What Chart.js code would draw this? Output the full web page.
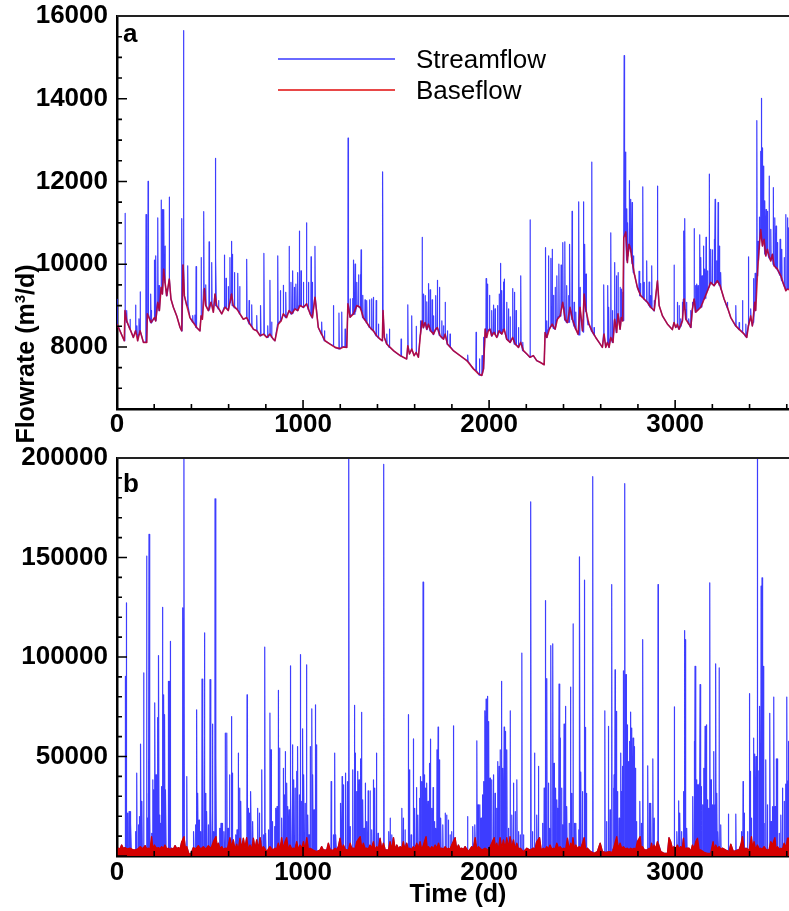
<!DOCTYPE html>
<html>
<head>
<meta charset="utf-8">
<script src="https://cdn.jsdelivr.net/npm/chart.js@4.4.1/dist/chart.umd.min.js"></script>
<style>
  body { margin: 0; background: #fff; }
  #wrap { position: relative; width: 789px; height: 911px; overflow: hidden; background: #fff;
          font-family: 'Liberation Sans', Arial, sans-serif; color: #000; }
  .box { position: absolute; left: 0; }
  .lbl { position: absolute; line-height: 1; white-space: nowrap; }
  .letter { font-size: 26px; font-weight: bold; }
  .legend { font-size: 26px; }
  .key { position: absolute; width: 117px; height: 1.5px; }
  .title { font-size: 25px; font-weight: bold; }
  #yTitle { left: -95px; top: 339px; width: 240px; height: 30px; line-height: 30px; text-align: center;
            transform: rotate(-90deg); }
  #yTitle sup { font-size: 15px; line-height: 0; vertical-align: 9px; }
</style>
</head>
<body>
<div id="wrap">
  <div class="box" style="top:0"><canvas id="panelA" width="789" height="439"></canvas></div>
  <div class="box" style="top:440px"><canvas id="panelB" width="789" height="471"></canvas></div>
  <div class="lbl letter" style="left:123px;top:20px">a</div>
  <div class="lbl letter" style="left:123px;top:470px">b</div>
  <div class="key" style="left:278px;top:58px;background:#6a6aff"></div>
  <div class="key" style="left:278px;top:89px;background:#e84848"></div>
  <div class="lbl legend" style="left:416px;top:46px">Streamflow</div>
  <div class="lbl legend" style="left:416px;top:77px">Baseflow</div>
  <div class="lbl title" id="yTitle">Flowrate (m<sup>3</sup>/d)</div>
  <div class="lbl title" style="left:358px;top:881px;width:200px;text-align:center">Time (d)</div>
</div>
<script>
const DAY_MAX = 3612;
const dayTicks = [0, 1000, 2000, 3000];
const flowTicksA = [8000, 10000, 12000, 14000, 16000];
const flowTicksB = [50000, 100000, 150000, 200000];

// panel a: baseflow [day, m3/d]
const baseflowA = [
  [0,8550],[39,8150],[43,8880],[52,8630],[70,8430],[88,8230],[100,8390],[111,8150],[124,8390],[142,8110],
  [160,8110],[163,8800],[183,8590],[201,8710],[208,8630],[219,9080],[228,8880],[237,9440],[244,9280],[251,9880],
  [258,9560],[267,9240],[281,9640],[290,9160],[303,8960],[321,8750],[339,8470],[348,8390],[355,9980],[362,9240],
  [375,9000],[392,8710],[410,8590],[428,8470],[446,8390],[452,8750],[459,8670],[470,9410],[477,9000],[491,8880],
  [505,9080],[518,8840],[527,9280],[536,9000],[548,8920],[563,8800],[581,8960],[598,8880],[607,9080],[616,9280],
  [625,9000],[643,8920],[661,8800],[679,8670],[697,8710],[715,8550],[733,8430],[751,8390],[769,8270],[787,8310],
  [805,8230],[822,8310],[840,8190],[849,8150],[867,8550],[882,8630],[894,8800],[912,8710],[925,8880],[939,8800],
  [957,8920],[971,8880],[984,9000],[1002,8960],[1020,9040],[1038,8800],[1050,8710],[1064,9200],[1082,8470],[1100,8310],
  [1118,8150],[1145,8070],[1172,7990],[1200,7960],[1217,8000],[1235,7990],[1241,9040],[1253,8720],[1271,8800],[1289,9000],
  [1307,8960],[1324,8710],[1342,8590],[1360,8470],[1378,8390],[1396,8270],[1414,8190],[1426,8150],[1430,8880],[1437,8230],
  [1450,8070],[1468,7990],[1486,7910],[1504,7850],[1522,7790],[1539,7750],[1557,7710],[1563,8030],[1572,7830],[1584,7950],
  [1597,7790],[1608,7870],[1620,7750],[1631,8310],[1640,8630],[1647,8470],[1656,8590],[1665,8430],[1674,8550],[1686,8390],
  [1701,8310],[1713,8430],[1722,8470],[1737,8270],[1755,8190],[1764,8310],[1776,8070],[1808,7910],[1844,7790],[1880,7670],
  [1916,7470],[1943,7350],[1961,7310],[1970,7470],[1979,8430],[1987,8230],[1996,8390],[2005,8430],[2014,8270],[2027,8350],
  [2041,8230],[2054,8390],[2068,8310],[2081,8430],[2095,8190],[2113,8110],[2127,8230],[2140,8070],[2158,7990],[2170,8110],
  [2185,7910],[2203,7830],[2220,7750],[2238,7790],[2256,7670],[2274,7630],[2296,7570],[2301,8350],[2310,8230],[2324,8430],
  [2339,8550],[2355,8430],[2367,8670],[2382,8750],[2396,9080],[2409,8670],[2421,8590],[2435,8960],[2448,8670],[2466,8430],
  [2478,8310],[2489,8960],[2502,8390],[2511,9280],[2519,8920],[2537,8550],[2555,8370],[2573,8230],[2591,8110],[2609,7990],
  [2618,8310],[2627,7990],[2636,8110],[2645,7990],[2654,8230],[2666,8110],[2675,8670],[2686,8350],[2693,8800],[2704,8430],
  [2711,8710],[2718,8630],[2724,10640],[2735,10780],[2743,10040],[2752,10480],[2761,10360],[2770,10040],[2783,9720],[2797,9440],
  [2815,9240],[2833,9160],[2851,9080],[2869,8960],[2887,8880],[2905,9600],[2914,9000],[2932,8750],[2959,8550],[2985,8420],
  [2994,8590],[3003,8470],[3012,8550],[3021,8430],[3039,8630],[3048,9160],[3057,8670],[3075,8550],[3084,8470],[3093,8920],
  [3102,9160],[3111,8840],[3120,8880],[3138,8960],[3156,9160],[3174,9360],[3191,9560],[3209,9480],[3227,9600],[3242,9480],
  [3263,9160],[3281,8960],[3299,8710],[3326,8510],[3353,8390],[3371,8310],[3385,8230],[3394,8510],[3406,8750],[3415,8510],
  [3428,9080],[3433,8880],[3442,9720],[3451,10360],[3460,10840],[3469,10440],[3478,10600],[3487,10200],[3496,10360],[3505,10200],
  [3514,10080],[3523,10240],[3532,9960],[3550,9880],[3568,9720],[3586,9480],[3595,9360],[3604,9400],[3612,9380]
];

// panel a: runoff events [day, streamflow peak, flow at the foot of the peak]
const eventsA = [
  [1,9150,8550],[43,11230,8870],[52,8880,8600],[70,8670,8430],[100,9010,8390],[107,8510,8300],[118,8680,8300],[125,9330,8380],
  [156,11200,8110],[167,12000,8790],[181,9280,8590],[186,8880,8580],[201,10100,8700],[208,10200,8640],[219,11120,9070],
  [226,9480,8880],[237,11550,9430],[244,11320,9290],[251,11320,9870],[258,10440,9550],[267,9400,9240],[281,11620,9630],
  [348,11100,8390],[358,15650,9970],[380,9960,8990],[407,8760,8600],[419,8770,8550],[425,9940,8470],[452,10160,8740],
  [466,11270,9400],[477,9500,9000],[495,10540,8900],[509,10040,9050],[527,12560,9270],[532,10160,9000],[545,9120,8920],
  [577,10220,8960],[586,9660,8950],[598,9460,8880],[607,10160,9070],[615,10550,9270],[620,10240,9000],[631,9800,8950],
  [649,9780,8900],[659,9460,8800],[697,10120,8700],[710,9120,8560],[724,9020,8500],[751,8760,8390],[772,9000,8270],
  [790,10260,8310],[810,8510,8230],[822,9610,8310],[831,8600,8230],[864,10200,8550],[878,9360,8630],[894,9490,8790],
  [907,9320,8710],[925,10430,8870],[935,9560,8800],[944,9840,8810],[953,9440,8920],[962,9520,8900],[971,9800,8880],
  [980,10800,9000],[989,9840,8990],[1002,9560,8950],[1018,11000,9040],[1029,9560,8900],[1043,10180,8750],[1050,9560,8700],
  [1064,10430,9190],[1100,8600,8300],[1115,8390,8150],[1163,9000,8030],[1193,8820,7950],
  [1208,8840,8000],[1226,8430,7990],[1242,13050,9030],[1253,9160,8720],[1267,9170,8800],[1272,10100,8790],[1280,10000,8850],
  [1289,9560,9000],[1298,9740,8970],[1307,9750,8950],[1312,10345,8900],[1321,9250,8710],[1333,9140,8650],[1342,9120,8580],
  [1357,9140,8470],[1369,9160,8420],[1378,9200,8390],[1393,9120,8270],[1405,8550,8220],[1428,12230,8880],[1450,8310,8070],
  [1464,8430,7990],[1527,8190,7780],[1563,9020,8000],[1584,8750,7930],[1608,8500,7860],[1631,8630,8300],[1640,10650,8620],
  [1647,9280,8460],[1656,9240,8580],[1665,9090,8420],[1674,9530,8540],[1683,9380,8390],[1694,9140,8350],[1701,8750,8300],
  [1713,9240,8420],[1722,9610,8460],[1733,9440,8280],[1746,8630,8220],[1755,8510,8190],[1764,9080,8300],[1776,8390,8060],
  [1790,8310,8000],[1885,7800,7650],[1930,8350,7430],[1948,7710,7320],[1962,7790,7350],[1970,8230,7470],[1984,9650,8230],
  [1991,9520,8380],[2002,9250,8430],[2014,8880,8260],[2023,9010,8350],[2032,8920,8300],[2045,9000,8250],[2054,9280,8390],
  [2061,10020,8330],[2068,9360,8320],[2077,9570,8430],[2082,9640,8400],[2095,9080,8180],[2104,8920,8150],[2113,8730,8110],
  [2127,9410,8220],[2136,9320,8070],[2145,8880,8050],[2158,8470,7990],[2170,9720,8100],[2181,8110,7910],[2220,11070,7750],
  [2303,10400,8300],[2310,8630,8230],[2319,10200,8420],[2332,10140,8500],[2339,10360,8540],[2346,9250,8450],[2355,9440,8430],
  [2364,9720,8660],[2375,10000,8740],[2387,9980,8900],[2396,10520,9070],
  [2407,10540,8650],[2417,9480,8590],[2428,9240,8600],[2433,10480,8950],[2446,11280,8660],[2457,9080,8500],[2466,8840,8420],
  [2482,11510,8290],[2489,9440,8900],[2507,11510,8360],[2514,10480,9200],[2521,9760,8860],[2532,8620,8540],[2552,12470,8370],
  [2564,8470,8290],[2616,9500,8300],[2638,9480,8100],[2643,8960,8000],[2654,10760,8220],[2663,8880,8110],[2675,10040,8650],
  [2684,9720,8350],[2693,9800,8790],[2704,9440,8430],[2711,9400,8700],[2720,9320,8640],[2726,15040,10700],[2733,12710,10750],
  [2740,11340,10100],[2745,11000,10200],[2754,12020,10470],[2761,11570,10300],[2769,11490,10020],[2776,10200,9800],
  [2806,9830,9330],[2812,9530,9240],[2826,11870,9200],[2833,9560,9150],[2847,10080,9090],[2860,9570,9000],[2865,9240,8970],
  [2874,9960,8930],[2887,9120,8870],[2905,11890,9580],[2994,9980,8580],[3012,9080,8500],[3021,9000,8430],[3030,8680,8500],
  [3039,9080,8630],[3045,10800,9150],[3052,11100,8900],[3061,9080,8660],[3073,8680,8550],[3084,8880,8470],[3093,9080,8920],
  [3102,10860,9150],[3109,9480,8840],[3116,9520,8880],[3123,9480,8900],[3132,10710,8950],[3138,10160,8970],[3145,9720,9050],
  [3152,10440,9150],[3159,9880,9180],[3166,10650,9280],[3174,9840,9370],[3183,12180,9450],[3191,10360,9560],[3200,10350,9520],
  [3209,10600,9480],[3215,11570,9520],[3224,10080,9600],[3231,11490,9560],[3238,10440,9480],[3245,9800,9400],[3281,9080,8940],
  [3326,9000,8500],[3344,8590,8420],[3362,9120,8360],[3380,8550,8250],[3394,10180,8520],[3406,8920,8700],[3421,9650,8600],
  [3430,9780,8900],[3439,13470,9720],[3446,10550,10100],[3453,11140,10500],[3460,12730,10800],[3464,14010,10600],
  [3469,12810,10500],[3475,12370,10600],[3482,11530,10250],[3489,11320,10300],[3496,11280,10300],[3505,12130,10150],
  [3514,10840,10100],[3527,11850,10000],[3536,11120,9960],[3543,10920,9900],[3550,10520,9860],[3564,10600,9730],
  [3573,10360,9600],[3586,10160,9470],[3595,11200,9380],[3604,11120,9400],[3611,10880,9480]
];

// panel b: baseflow [day, m3/d]
const baseflowB = [
  [0,3000],[7,3900],[16,3500],[25,5500],[34,3800],[43,4200],[56,3500],[70,3900],[84,3200],[97,3000],[110,3400],[124,4700],
  [138,3600],[151,5200],[160,3500],[168,3900],[178,3500],[186,9700],[193,3000],[201,5500],[212,3800],[222,4200],[231,3600],
  [240,4700],[249,3800],[258,5500],[267,3500],[276,3900],[285,3200],[294,3900],[303,3400],[312,5200],[321,3600],[330,4200],
  [339,3500],[348,7200],[360,9700],[368,3500],[375,4700],[387,800],[398,1300],[410,4200],[424,3600],[437,5200],[450,3500],
  [464,4700],[478,3400],[491,5200],[505,3800],[518,7200],[532,9700],[539,4000],[545,6400],[554,3600],[563,4700],[572,3300],
  [581,3900],[594,3800],[607,9200],[616,4200],[625,8100],[634,3200],[643,5900],[652,3000],[661,8900],[670,3500],[679,8900],
  [688,3800],[697,9200],[706,3000],[715,5500],[724,3000],[733,8900],[742,3500],[751,8100],[760,3300],[769,9200],[778,3000],
  [787,4700],[805,2200],[814,3600],[822,4700],[836,3000],[849,3900],[858,3500],[867,6400],[876,3000],[885,9200],[894,3500],
  [903,7200],[912,9200],[921,3000],[930,5500],[939,3600],[948,3900],[957,3600],[966,7200],[975,3000],[984,5500],[993,3800],
  [1002,7200],[1011,3200],[1020,9200],[1029,3000],[1038,3900],[1055,3000],[1073,2200],[1091,3000],[1100,4700],[1109,3000],
  [1118,3000],[1127,2800],[1136,6400],[1145,3200],[1154,3000],[1163,2800],[1172,3900],[1181,3000],[1190,4700],[1199,8900],
  [1208,3200],[1217,5500],[1226,3500],[1235,3000],[1244,3200],[1253,6400],[1262,3800],[1271,3900],[1280,3600],[1289,7200],
  [1307,9700],[1316,3500],[1324,6400],[1333,3800],[1342,3900],[1351,3500],[1360,5500],[1369,3800],[1378,7200],[1387,3000],
  [1396,4700],[1405,3600],[1414,8900],[1423,3200],[1432,6400],[1441,3200],[1450,3000],[1459,3000],[1468,7200],[1477,3000],
  [1486,9200],[1495,3200],[1504,5500],[1513,3600],[1522,4700],[1531,3800],[1539,7200],[1548,3000],[1557,6400],[1566,3600],
  [1575,3900],[1584,3200],[1593,4700],[1602,3500],[1611,6400],[1620,3800],[1629,7200],[1638,3000],[1647,5500],[1661,9700],
  [1668,3500],[1674,4700],[1683,3500],[1692,4700],[1701,3600],[1710,5500],[1719,3800],[1728,6400],[1737,3600],[1746,3900],
  [1755,3400],[1764,4700],[1773,3300],[1781,3900],[1790,3400],[1799,5500],[1817,9200],[1826,3200],[1835,5500],[1844,3500],
  [1853,3900],[1862,3200],[1871,4700],[1889,2200],[1907,4700],[1916,3600],[1925,9200],[1934,3000],[1943,4700],[1961,3000],
  [1979,3900],[1996,3000],[2014,6400],[2027,9200],[2034,3800],[2041,6400],[2050,3200],[2059,9200],[2068,3800],[2077,8100],
  [2086,3500],[2095,9200],[2104,4000],[2113,9700],[2122,3800],[2131,8100],[2140,3200],[2149,6400],[2158,3500],[2167,3900],
  [2185,2200],[2203,3900],[2220,3000],[2238,3900],[2247,3200],[2256,7200],[2271,9200],[2280,3000],[2292,3900],[2301,3200],
  [2310,4700],[2319,3500],[2328,5500],[2337,3400],[2346,3900],[2355,3500],[2364,6400],[2373,3800],[2382,4700],[2391,3400],
  [2400,3900],[2412,3600],[2421,8900],[2430,3000],[2439,6400],[2445,3000],[2451,9200],[2458,3500],[2466,5500],[2475,3600],
  [2484,4700],[2493,3800],[2502,6400],[2511,9200],[2519,3000],[2528,3900],[2546,2200],[2564,1300],[2582,2200],[2597,6400],
  [2609,2200],[2627,1800],[2645,2200],[2663,1800],[2686,9700],[2695,3500],[2704,6400],[2713,3800],[2722,4700],[2732,3400],
  [2743,3900],[2752,3200],[2761,3900],[2770,3400],[2779,3900],[2788,3200],[2797,7200],[2812,9700],[2818,3500],[2824,4700],
  [2833,3200],[2842,3000],[2851,3000],[2860,3900],[2867,3400],[2873,6400],[2880,3000],[2887,5500],[2896,3600],[2905,7200],
  [2923,2200],[2941,1300],[2959,1300],[2967,9200],[2976,7200],[2985,3800],[2994,4700],[3003,3500],[3012,5500],[3021,3600],
  [3030,4700],[3038,3400],[3045,8900],[3051,3000],[3057,3900],[3075,3900],[3084,2200],[3093,5500],[3102,3800],[3111,7200],
  [3120,8900],[3129,3000],[3138,3000],[3156,1800],[3174,1300],[3191,1300],[3204,7200],[3211,3000],[3218,5500],[3227,3600],
  [3236,4700],[3245,3400],[3254,3900],[3272,3000],[3290,2200],[3299,5900],[3313,2200],[3335,3000],[3344,3200],[3353,5500],
  [3362,9700],[3371,3000],[3380,3900],[3398,3000],[3410,9700],[3417,3500],[3424,7200],[3433,3000],[3442,5500],[3451,3600],
  [3460,3900],[3469,3400],[3478,4700],[3487,3400],[3496,3000],[3505,3200],[3514,7200],[3523,5500],[3536,9200],[3543,3000],
  [3550,4700],[3559,3400],[3568,3900],[3577,3400],[3586,6400],[3595,3800],[3604,8900],[3612,8900]
];

// panel b: runoff events [day, streamflow peak, flow at the foot of the peak]
const eventsB = [
  [45,90300,3500],[50,127200,3500],[57,21500,3000],[65,22300,3200],[70,22300,3500],[75,16400,3000],[100,12200,2800],
  [106,41600,3000],[115,15600,3500],[120,19800,4000],[127,56200,4200],[134,27400,3500],[143,92000,3000],[159,150700,3000],
  [163,19000,3200],[168,31500,3500],[172,161600,3000],[177,20600,3500],[186,11400,6000],[192,38300,4000],[197,33200,4200],
  [204,76900,4000],[210,40800,3500],[213,33200,3200],[219,69600,3800],[224,100700,3500],[229,20600,3000],[235,16400,3500],
  [240,34900,4000],[245,125000,3500],[251,81000,4000],[256,71000,4500],[262,33200,3500],[276,87800,3500],[281,87800,3000],
  [287,107900,3000],[353,124700,6000],[360,210000,8000],[375,39900,4000],[412,12200,3500],[421,15600,3500],[428,73500,4000],
  [434,31500,4500],[441,18100,4000],[448,12200,3500],[457,88900,3800],[462,60900,4200],[470,112100,3500],[477,31500,3000],
  [482,22300,3500],[491,15600,4500],[500,88600,4000],[505,22300,3500],[513,66300,5000],[520,12200,6000],[527,179500,7000],
  [532,50000,8000],[552,13900,3000],[559,16400,4000],[566,16400,3500],[575,12200,3000],[582,61700,3500],[590,61700,3500],
  [597,13900,5000],[604,40800,7000],[615,70100,6000],[620,41600,6000],[638,10600,4500],[645,13100,5000],[652,51700,4000],
  [658,34100,6000],[665,27400,6000],[699,81000,7000],[706,24000,4000],[713,21500,5000],[720,32400,4000],[729,17300,6000],
  [756,24000,6000],[765,21500,6000],[778,43300,4000],[787,10600,4500],[794,105000,3000],[799,11400,2500],[814,13100,2600],
  [822,71800,4500],[828,53400,3500],[835,17300,2500],[846,14800,3000],[853,24000,3500],[860,24800,3500],[867,83200,5500],
  [873,54200,4000],[885,19000,7000],[894,44100,4500],[900,30700,6000],[905,52500,7000],[912,36600,7500],[918,24800,4000],
  [925,23200,4500],[930,95600,5000],[935,34100,3500],[943,55900,3000],[950,38300,3500],[957,34100,3000],[966,42500,6000],
  [971,55000,4500],[980,30700,4500],[986,101200,4000],[993,27400,3500],[998,63900,5000],[1004,40800,6000],[1011,26500,4000],
  [1018,96100,7000],[1025,20600,5000],[1032,10600,3500],[1039,55000,3800],[1047,74000,3500],[1052,40800,3200],[1059,23200,3000],
  [1066,76000,2500],[1072,55900,2200],[1151,37400,2500],[1163,10600,2000],[1170,51700,3000],[1177,10600,3000],[1202,26500,6000],
  [1210,39900,4000],[1217,35700,5000],[1229,41600,3000],[1238,37400,3000],[1246,215000,2500],[1253,14800,5500],[1267,43300,3500],
  [1276,75700,3000],[1281,51700,3000],[1287,32400,6000],[1294,42500,6500],[1301,38300,7500],[1310,48800,8000],[1315,72200,6000],
  [1321,28200,5500],[1328,13900,4000],[1335,36600,3500],[1342,17300,3900],[1350,32700,3500],[1360,32700,5000],[1369,13100,3000],
  [1378,38300,6500],[1385,34100,3500],[1394,51700,4000],[1403,11400,3500],[1434,196800,5500],[1461,12200,2500],[1468,19000,6000],
  [1477,10600,3500],[1531,24000,3000],[1539,19000,6000],[1548,13100,3500],[1566,71000,3000],[1572,43300,3200],[1581,10600,2800],
  [1593,58900,4000],[1600,24000,3000],[1609,34400,5500],[1617,20600,3500],[1626,29000,6000],[1631,39900,5000],[1638,37400,3500],
  [1645,137600,5000],[1651,40800,6000],[1658,34100,8000],[1665,36600,5000],[1672,27400,4500],[1679,46600,3000],[1685,58700,3500],
  [1692,24000,4500],[1699,34400,3500],[1706,17300,4500],[1713,13900,4000],[1720,53400,3500],[1726,64800,5000],[1733,48300,4000],
  [1740,19000,3200],[1751,15600,2800],[1764,21500,4500],[1772,20600,2800],[1781,18100,3800],[1790,10600,2600],[1799,12200,5000],
  [1808,65400,7000],[1884,19800,2500],[1912,14800,3500],[1923,15600,7000],[1934,57900,3500],[1941,25700,4200],[1950,25700,3800],
  [1957,19000,3200],[1964,30700,3000],[1970,37400,3500],[1977,73000,3800],[1984,78900,3500],[1991,80200,3200],[1998,67600,3000],
  [2005,39100,4500],[2014,38300,6000],[2023,40800,7500],[2032,31500,5000],[2041,24000,6000],[2047,47500,4000],[2054,45000,6000],
  [2059,53400,8500],[2066,87800,5000],[2073,44100,6500],[2081,64800,5500],[2088,62600,4000],[2095,53400,8500],[2104,13900,4500],
  [2113,73000,9000],[2122,20600,4500],[2131,36600,7500],[2140,22300,3500],[2149,38300,6000],[2158,12200,3000],[2167,10600,3800],
  [2176,102000,3000],[2185,10600,2200],[2224,178000,3000],[2233,12200,3500],[2244,51700,2500],[2256,20600,7000],[2265,45000,6000],
  [2287,16400,3500],[2296,34100,3000],[2303,128400,2500],[2310,89100,4500],[2319,36600,2800],[2324,13900,4500],[2332,105700,3000],
  [2342,106600,3000],[2349,46600,3500],[2357,34100,2800],[2364,28200,6000],[2369,24000,4000],[2376,86400,3000],[2382,59200,4500],
  [2389,34100,3000],[2396,15600,3200],[2403,66300,4000],[2410,75200,3500],[2417,24800,7000],[2430,16400,3200],[2437,84900,5500],
  [2444,31500,3500],[2451,116600,8500],[2459,16400,4000],[2466,16400,5000],[2482,13100,4500],[2487,150300,3500],[2493,42100,3000],
  [2502,32400,6000],[2511,138600,8500],[2516,64600,4500],[2523,31500,3500],[2557,190600,2000],[2622,73000,2000],[2631,17300,2000],
  [2641,65100,2200],[2650,23200,2000],[2659,136400,1800],[2668,34100,3500],[2672,40800,4500],[2677,93600,6500],[2684,72700,9000],
  [2690,32400,5000],[2699,19000,5000],[2708,51700,4500],[2713,32400,3000],[2718,45000,3500],[2722,93100,4500],[2729,187100,3000],
  [2736,91100,3000],[2743,65900,3800],[2749,47500,2800],[2756,57600,2500],[2761,72300,3800],[2767,64300,3000],[2774,59200,3000],
  [2779,55000,3800],[2785,44100,2800],[2792,17300,3000],[2810,27400,8000],[2819,16400,5000],[2826,108700,4500],[2853,45300,2200],
  [2862,26500,3500],[2869,26500,4500],[2880,48800,3200],[2887,19000,5000],[2908,136400,6500],[2996,75000,4500],[3009,12200,5000],
  [3018,27700,3500],[3025,21500,4000],[3034,12200,4000],[3045,32400,8500],[3050,113300,4000],[3055,108700,3500],[3062,13900,3800],
  [3095,29900,5000],[3102,57600,3000],[3107,95300,4500],[3113,38300,7500],[3118,35700,8500],[3123,35700,8000],[3129,36600,3000],
  [3134,86100,3000],[3140,34900,2800],[3147,25700,2500],[3154,44100,2000],[3161,65100,1800],[3168,65900,1500],[3174,28200,1300],
  [3179,24000,1300],[3186,137300,1300],[3193,38300,1500],[3200,25700,5000],[3208,52500,6500],[3213,25700,3500],[3218,96500,5000],
  [3224,31500,3000],[3229,12200,3500],[3236,94500,4500],[3245,15600,2500],[3286,21100,2500],[3326,21100,2800],[3356,12200,6500],
  [3365,37400,8000],[3372,21500,3500],[3389,12200,3200],[3399,81600,3500],[3403,42500,5000],[3410,19000,9000],[3421,59200,6000],
  [3428,51200,4500],[3435,50000,3500],[3442,205000,5000],[3450,42800,3000],[3455,75200,3200],[3462,135600,3500],[3467,139800,3000],
  [3473,95300,3500],[3478,16400,4500],[3487,48300,2500],[3496,25700,3000],[3509,71700,5000],[3516,17300,6500],[3523,24800,5500],
  [3530,79900,7000],[3537,24800,8000],[3544,48800,3500],[3550,48800,4500],[3559,11400,2500],[3568,20600,3800],[3577,34100,2500],
  [3586,27400,6000],[3593,36100,3500],[3600,79900,6000],[3607,37800,8000],[3611,57600,8500]
];

const tickFont = { family: "'Liberation Sans', Arial, sans-serif", size: 26, weight: 'bold', lineHeight: 1.2 };
const streamBlue = 'rgba(40,40,255,0.9)';

const toPoints = rows => rows.map(([x, y]) => ({ x, y }));

// streamflow = baseflow on quiet days plus a narrow spike for every event
function streamSeries(base, events) {
  const pts = toPoints(base);
  events.forEach(([d, peak, foot]) => {
    pts.push({ x: d - 1, y: foot }, { x: d, y: peak }, { x: d + 2, y: foot });
  });
  return pts.sort((p, q) => p.x - q.x);
}

// one tick every `step` between lo and hi (labels are filtered by the callbacks)
function evenTicks(lo, hi, step) {
  return s => {
    s.ticks = [];
    for (let v = lo; v <= hi; v += step) s.ticks.push({ value: v });
  };
}

// tecplot style frame: tick marks pointing inward, thin line along the top
const innerTicks = {
  id: 'innerTicks',
  afterDatasetsDraw(chart, args, o) {
    const { ctx, chartArea: a, scales: { x, y } } = chart;
    ctx.save();
    ctx.strokeStyle = '#000';
    ctx.lineWidth = 1.6;
    ctx.beginPath();
    x.ticks.forEach(t => {
      const px = x.getPixelForValue(t.value);
      const len = t.value % o.xMajor ? 5 : 9;
      ctx.moveTo(px, a.bottom);
      ctx.lineTo(px, a.bottom - len);
    });
    y.ticks.forEach(t => {
      const py = y.getPixelForValue(t.value);
      const len = t.value % o.yMajor ? 5 : 10;
      ctx.moveTo(a.left, py);
      ctx.lineTo(a.left + len, py);
    });
    ctx.stroke();
    ctx.lineWidth = 2;
    ctx.strokeStyle = '#222';
    ctx.beginPath();
    ctx.moveTo(a.left, a.top);
    ctx.lineTo(a.right, a.top);
    ctx.stroke();
    ctx.restore();
  }
};

// keep the plot frame where it is, whatever the label overhang
function noOverhang(s) {
  s.paddingTop = 0; s.paddingBottom = 0; s.paddingLeft = 0; s.paddingRight = 0;
}

function makePanel(id, datasets, cfg) {
  return new Chart(document.getElementById(id), {
    type: 'line',
    data: { datasets },
    options: {
      responsive: false,
      animation: false,
      parsing: false,
      normalized: true,
      layout: { padding: { top: cfg.padTop, left: 0, right: 0, bottom: 0 } },
      elements: { point: { radius: 0 }, line: { tension: 0, borderJoinStyle: 'round' } },
      plugins: {
        legend: { display: false },
        tooltip: { enabled: false },
        innerTicks: { xMajor: 1000, yMajor: cfg.yMajor }
      },
      scales: {
        x: {
          type: 'linear', min: 0, max: DAY_MAX,
          grid: { display: false, drawTicks: false },
          border: { display: true, color: '#000', width: 2.5 },
          afterBuildTicks: evenTicks(0, DAY_MAX, 200),
          afterFit(s) { s.height = cfg.xHeight; noOverhang(s); },
          ticks: {
            autoSkip: false, maxRotation: 0, padding: cfg.xPad, color: '#000', font: tickFont,
            callback: v => dayTicks.includes(v) ? String(v) : ''
          }
        },
        y: {
          min: cfg.yMin, max: cfg.yMax,
          grid: { display: false, drawTicks: false },
          border: { display: true, color: '#000', width: 2.5 },
          afterBuildTicks: evenTicks(cfg.yMin, cfg.yMax, cfg.yMinor),
          afterFit(s) { s.width = 117; noOverhang(s); },
          ticks: {
            autoSkip: false, padding: 9, color: '#000', font: tickFont,
            callback: v => cfg.labels.includes(v) ? String(v) : ''
          }
        }
      }
    },
    plugins: [innerTicks]
  });
}

makePanel('panelA', [
  { label: 'Baseflow', data: toPoints(baseflowA), borderColor: 'rgba(190,0,40,0.85)', borderWidth: 1.6, order: 0 },
  { label: 'Streamflow', data: streamSeries(baseflowA, eventsA), borderColor: streamBlue, borderWidth: 1.2, order: 1 }
], { padTop: 16, xHeight: 30, xPad: 0, yMin: 6500, yMax: 16000, yMinor: 500, yMajor: 2000, labels: flowTicksA });

makePanel('panelB', [
  { label: 'Baseflow', data: toPoints(baseflowB), borderColor: '#d40000', backgroundColor: '#d40000',
    borderWidth: 1.4, fill: 'origin', order: 0 },
  { label: 'Streamflow', data: streamSeries(baseflowB, eventsB), borderColor: streamBlue, borderWidth: 1.2, order: 1 }
], { padTop: 18, xHeight: 55, xPad: 1, yMin: 0, yMax: 200000, yMinor: 10000, yMajor: 50000, labels: flowTicksB });
</script>
</body>
</html>
